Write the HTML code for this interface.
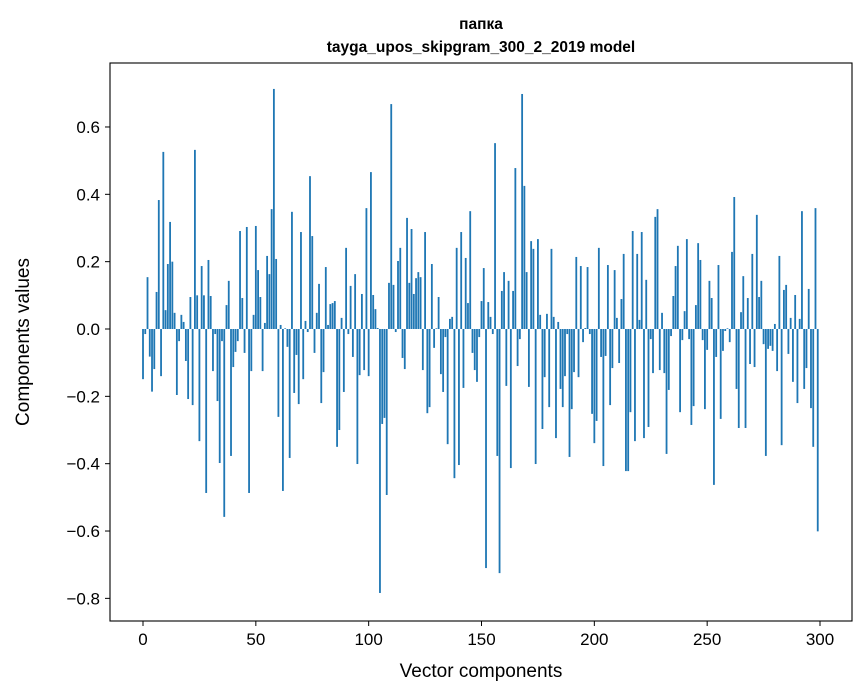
<!DOCTYPE html>
<html><head><meta charset="utf-8"><style>
html,body{margin:0;padding:0;background:#fff}
svg{display:block;font-family:"Liberation Sans","DejaVu Sans",sans-serif}
</style></head><body>
<svg id="chart" width="867" height="696" viewBox="0 0 867 696">
<text x="481" y="29" text-anchor="middle" font-size="15.5" font-weight="bold">папка</text>
<text x="481" y="52" text-anchor="middle" font-size="15.5" font-weight="bold">tayga_upos_skipgram_300_2_2019 model</text>
<g id="bars"></g>
<g id="xticks"></g>
<g id="yticks"></g>
<rect x="110" y="63" width="742" height="558" fill="none" stroke="#000" stroke-width="1.1"/>
<text x="481" y="677" text-anchor="middle" font-size="19">Vector components</text>
<text transform="translate(29,342) rotate(-90)" text-anchor="middle" font-size="19">Components values</text>
</svg>
<script>
const values = [
-0.149,-0.015,0.154,-0.082,-0.186,-0.119,0.11,0.383,-0.14,0.526,
0.056,0.193,0.318,0.2,0.048,-0.196,-0.036,0.042,0.021,-0.095,
-0.208,0.095,-0.226,0.532,0.1,-0.333,0.187,0.1,-0.487,0.205,
0.098,-0.125,-0.015,-0.214,-0.398,-0.036,-0.558,0.071,0.143,-0.377,
-0.113,-0.068,-0.036,0.291,0.092,-0.071,0.303,-0.487,-0.125,0.042,
0.306,0.175,0.095,-0.125,0.018,0.217,0.163,0.356,0.713,0.208,
-0.261,0.012,-0.481,0.002,-0.053,-0.383,0.348,-0.19,-0.077,-0.223,
0.288,-0.149,0.024,-0.009,0.454,0.276,-0.071,0.048,0.134,-0.22,
-0.128,0.184,0.012,0.074,0.077,0.083,-0.35,-0.3,0.033,-0.187,
0.241,-0.015,0.128,-0.083,0.163,-0.401,-0.137,0.104,-0.122,0.359,
-0.14,0.466,0.101,0.059,0.003,-0.784,-0.282,-0.264,-0.493,0.137,
0.668,0.131,-0.009,0.202,0.241,-0.086,-0.119,0.33,0.137,0.297,
0.104,0.151,0.169,0.154,-0.122,0.288,-0.25,-0.232,0.193,-0.056,
0.002,0.095,-0.134,-0.187,-0.024,-0.342,0.03,0.036,-0.443,0.241,
-0.404,0.288,-0.175,0.211,0.077,0.35,-0.071,-0.122,-0.157,-0.024,
0.083,0.181,-0.71,0.08,0.036,-0.015,0.552,-0.377,-0.725,0.113,
0.169,-0.169,0.143,-0.413,0.113,0.478,-0.11,-0.03,0.698,0.425,
0.169,-0.172,0.261,0.238,-0.401,0.267,0.042,-0.297,-0.143,0.045,
-0.232,0.238,0.036,-0.324,0.021,-0.178,-0.232,-0.14,-0.015,-0.38,
-0.238,-0.128,0.214,-0.143,0.187,-0.039,0.003,0.184,-0.015,-0.252,
-0.339,-0.273,0.241,-0.083,-0.407,-0.08,0.19,-0.226,-0.116,0.175,
0.033,-0.101,0.089,0.223,-0.422,-0.422,-0.247,0.291,-0.333,0.223,
0.027,0.288,-0.324,0.146,-0.291,-0.03,-0.131,0.333,0.356,-0.122,
0.048,-0.131,-0.371,-0.181,-0.021,0.098,0.187,0.247,-0.247,-0.033,
0.053,0.267,-0.03,-0.285,-0.229,0.071,0.255,0.205,-0.033,-0.238,
-0.062,0.143,0.092,-0.463,-0.083,0.19,-0.267,-0.065,-0.006,0.002,
-0.039,0.229,0.392,-0.178,-0.294,0.05,0.157,-0.294,0.092,-0.104,
0.223,-0.113,0.339,0.095,0.143,-0.045,-0.377,-0.059,-0.05,-0.065,
0.015,-0.125,0.217,-0.345,0.116,0.131,-0.074,0.033,-0.157,0.101,
-0.22,0.03,0.35,-0.178,-0.116,0.119,-0.235,-0.35,0.359,-0.601
];
const xTickValues = [0,50,100,150,200,250,300];
const yTickValues = [-0.8,-0.6,-0.4,-0.2,0.0,0.2,0.4,0.6];
const yTickLabels = ["\u22120.8","\u22120.6","\u22120.4","\u22120.2","0.0","0.2","0.4","0.6"];

const NS = "http://www.w3.org/2000/svg";
const X0 = 143, XS = (820 - 143) / 300;
const Y0 = 329, YS = 336.7;
function xScale(i){ return X0 + i * XS; }
function yScale(v){ return Y0 - v * YS; }

const barsG = document.getElementById('bars');
values.forEach(function(v, i){
  const r = document.createElementNS(NS, 'rect');
  const w = 0.8 * XS;
  r.setAttribute('x', (xScale(i) - w / 2).toFixed(2));
  r.setAttribute('y', Math.min(yScale(v), yScale(0)).toFixed(2));
  r.setAttribute('width', w.toFixed(2));
  r.setAttribute('height', Math.abs(yScale(v) - yScale(0)).toFixed(2));
  r.setAttribute('fill', '#1f77b4');
  
  
  barsG.appendChild(r);
});

const xg = document.getElementById('xticks');
xTickValues.forEach(function(t){
  const x = xScale(t);
  const l = document.createElementNS(NS, 'line');
  l.setAttribute('x1', x); l.setAttribute('x2', x);
  l.setAttribute('y1', 621); l.setAttribute('y2', 626);
  l.setAttribute('stroke', '#000');
  
  
  xg.appendChild(l);
  const tx = document.createElementNS(NS, 'text');
  tx.setAttribute('x', x); tx.setAttribute('y', 645);
  tx.setAttribute('text-anchor', 'middle');
  tx.setAttribute('font-size', '17');
  tx.textContent = String(t);
  
  
  xg.appendChild(tx);
});

const yg = document.getElementById('yticks');
yTickValues.forEach(function(t, k){
  const y = yScale(t);
  const l = document.createElementNS(NS, 'line');
  l.setAttribute('x1', 105); l.setAttribute('x2', 110);
  l.setAttribute('y1', y); l.setAttribute('y2', y);
  l.setAttribute('stroke', '#000');
  
  
  yg.appendChild(l);
  const tx = document.createElementNS(NS, 'text');
  tx.setAttribute('x', 100); tx.setAttribute('y', y + 6);
  tx.setAttribute('text-anchor', 'end');
  tx.setAttribute('font-size', '17');
  tx.textContent = yTickLabels[k];
  
  
  yg.appendChild(tx);
});
</script>
</body></html>
